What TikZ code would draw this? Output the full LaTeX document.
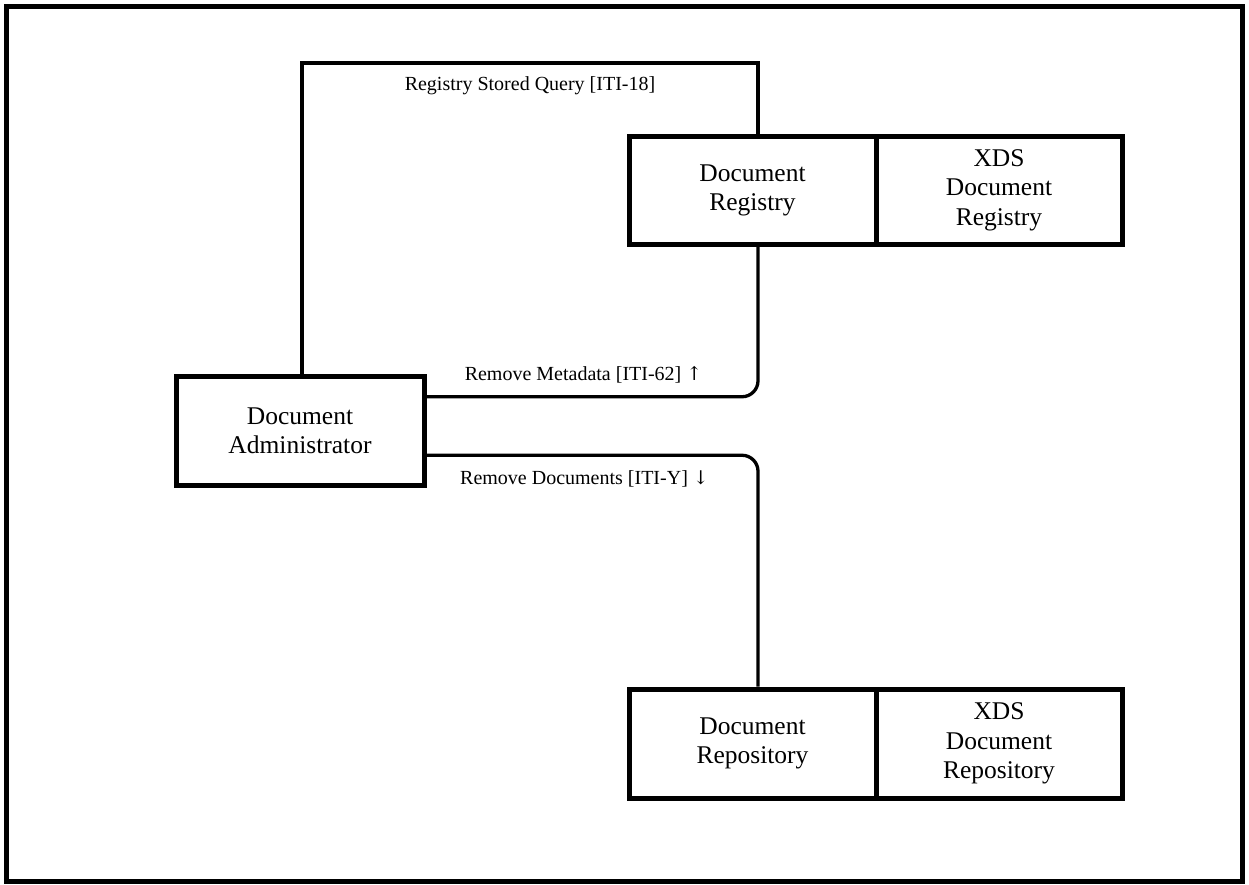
\documentclass[tikz,border=0pt]{standalone}
\usepackage{fontspec}
\setmainfont{Liberation Serif}
\newfontfamily\arrowfont{DejaVu Serif}
\usetikzlibrary{calc}
\tikzset{
  actor/.style={draw=black, line width=5pt, rectangle, inner sep=0pt, align=center,
    minimum height=108.5pt, font=\fontsize{25.5}{29.3}\selectfont},
  conn/.style={draw=black, line width=3.3pt},
  lbl/.style={font=\fontsize{20}{24}\selectfont, inner sep=0pt, anchor=base},
}
\begin{document}
\begin{tikzpicture}[x=1pt, y=-1pt]
\useasboundingbox (0,0) rectangle (1249,884);
\draw[line width=5pt] (6.5,6.5) rectangle (1242.5,881.5);

\node[actor, minimum width=248pt, minimum height=109.5pt] (adm) at (300,430.75) {Document\\Administrator};
\node[actor, minimum width=247pt] (regL) at (752.5,190.25) {Document\\Registry};
\node[actor, minimum width=246pt] (regR) at (999,190.25) {XDS\\Document\\Registry};
\node[actor, minimum width=247pt, minimum height=109pt] (repL) at (752.5,743.5) {Document\\Repository};
\node[actor, minimum width=246pt, minimum height=109pt] (repR) at (999,743.5) {XDS\\Document\\Repository};

\draw[conn] ($(adm.north)+(2,0)$) |- ($(regL.north)+(5.5,-70.5)$) -- ($(regL.north)+(5.5,0)$);
\draw[conn, rounded corners=16pt] ($(adm.east)+(0,-34)$) -| ($(regL.south)+(5.5,0)$);
\draw[conn, rounded corners=16pt] ($(adm.east)+(0,24.5)$) -| ($(repL.north)+(5.5,0)$);

\node[lbl] (l1) at (530,90.7) {Registry Stored Query [ITI-18]};
\node[lbl] (l2) at (583.5,380.7) {Remove Metadata [ITI-62] {\arrowfont\fontsize{19}{24}\selectfont ↑}};
\node[lbl] (l3) at (584.5,484) {Remove Documents [ITI-Y] {\arrowfont\fontsize{19}{24}\selectfont ↓}};
\end{tikzpicture}
\end{document}
